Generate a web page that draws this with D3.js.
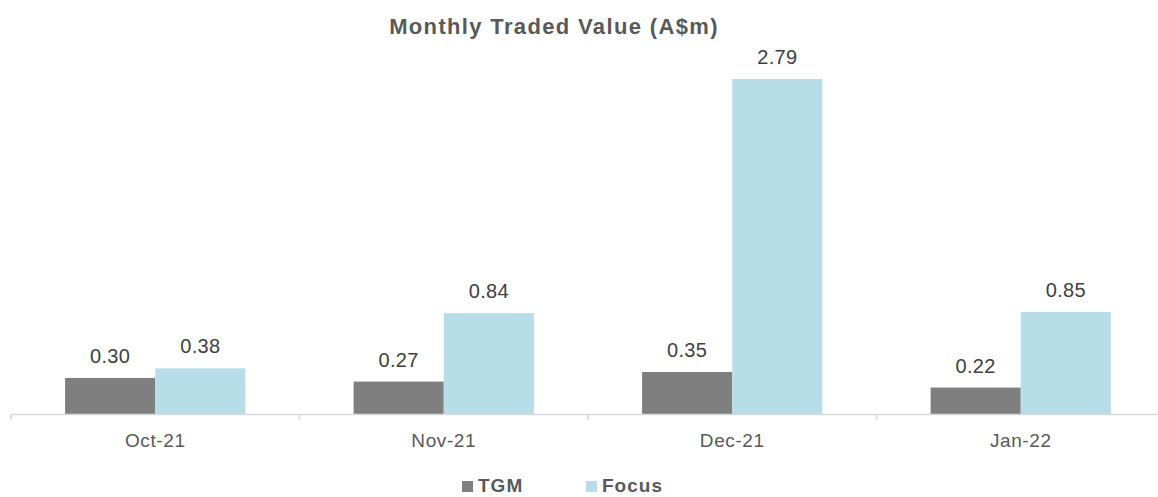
<!DOCTYPE html>
<html><head><meta charset="utf-8">
<script src="https://cdn.jsdelivr.net/npm/d3@7/dist/d3.min.js"></script>
<style>body{margin:0;background:#fff;}svg{display:block;font-family:"Liberation Sans",Arial,sans-serif;}</style>
</head><body>
<svg id="c" width="1158" height="497"></svg>
<script>
const categories = ["Oct-21","Nov-21","Dec-21","Jan-22"];
const seriesNames = ["TGM","Focus"];
const tgmValues = [0.30,0.27,0.35,0.22];
const focusValues = [0.38,0.84,2.79,0.85];
const colors = ["#7f7f7f","#b7dde8"];
const valuesBySeries = [tgmValues, focusValues];

const svg = d3.select("#c");
const baseY = 414;
const x0 = d3.scaleBand().domain(categories).range([11,1165]).padding(0);
const bw = x0.bandwidth();
const x1 = d3.scaleBand().domain(seriesNames).range([bw*0.1875, bw*0.8125]).padding(0);
const y = d3.scaleLinear().domain([0,2.79]).range([baseY,79]);

svg.append("text").attr("x",554).attr("y",34).attr("text-anchor","middle")
  .attr("font-size",22).attr("font-weight","bold").attr("fill","#595959")
  .attr("letter-spacing",1.35).text("Monthly Traded Value (A$m)");

const g = svg.selectAll("g.cat").data(categories).enter().append("g")
  .attr("transform",d=>`translate(${x0(d)},0)`);
seriesNames.forEach((s,si)=>{
  g.append("rect").attr("x",x1(s)).attr("width",x1.bandwidth())
    .attr("y",(d,i)=>y(valuesBySeries[si][i]))
    .attr("height",(d,i)=>baseY-y(valuesBySeries[si][i]))
    .attr("fill",colors[si]);
  g.append("text").attr("x",x1(s)+x1.bandwidth()/2)
    .attr("y",(d,i)=>y(valuesBySeries[si][i])-15)
    .attr("text-anchor","middle").attr("font-size",20).attr("fill","#404040")
    .attr("letter-spacing",0.3)
    .text((d,i)=>valuesBySeries[si][i].toFixed(2));
});

// axis
const ax = svg.append("g").attr("transform",`translate(0,${baseY})`)
  .call(d3.axisBottom(x0).tickSize(0).tickPadding(0));
ax.select(".domain").remove();
ax.selectAll("text").attr("font-size",19).attr("fill","#595959").attr("dy",null).attr("y",33)
  .attr("font-family","Liberation Sans, Arial, sans-serif").attr("letter-spacing",0.6);
svg.append("line").attr("x1",11).attr("x2",1158).attr("y1",baseY+0.5).attr("y2",baseY+0.5)
  .attr("stroke","#d9d9d9").attr("stroke-width",1.5);
const bounds = categories.map(c=>x0(c)).concat([x0(categories[3])+bw]);
svg.selectAll("line.tk").data(bounds).enter().append("line")
  .attr("x1",d=>d).attr("x2",d=>d).attr("y1",baseY).attr("y2",baseY+6)
  .attr("stroke","#d9d9d9").attr("stroke-width",1.5);

// legend
const leg = [{n:"TGM",x:462},{n:"Focus",x:586}];
leg.forEach((l,i)=>{
  svg.append("rect").attr("x",l.x).attr("y",481).attr("width",11).attr("height",11).attr("fill",colors[i]);
  svg.append("text").attr("x",l.x+16).attr("y",492).attr("font-size",19).attr("font-weight","bold")
    .attr("letter-spacing",1).attr("fill","#595959").text(l.n);
});
</script>
</body></html>
